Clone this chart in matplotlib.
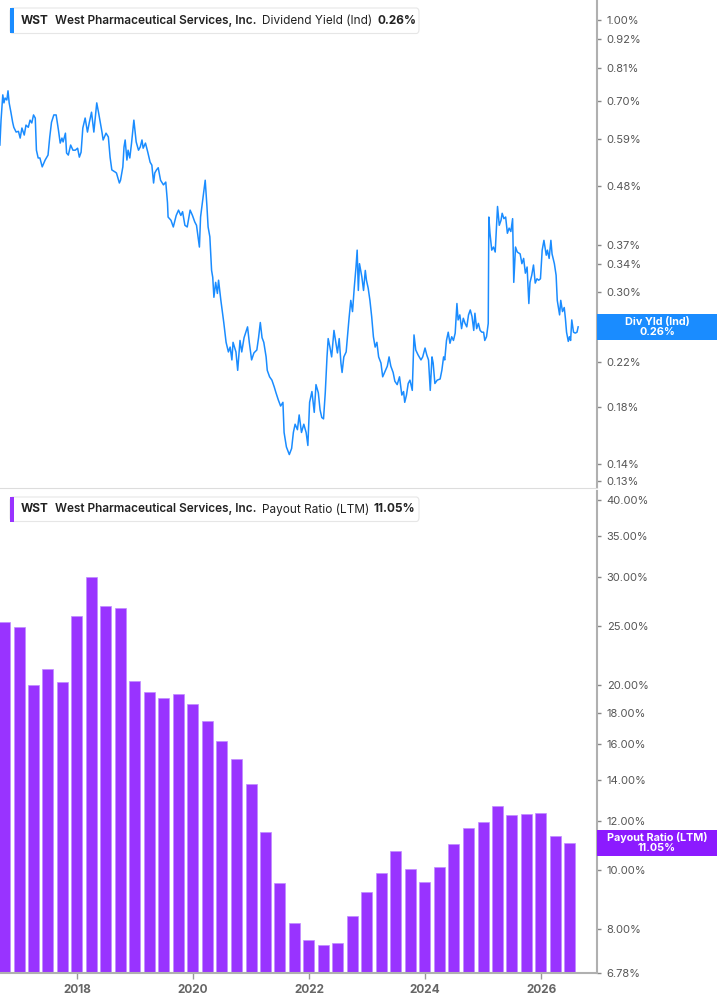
import pandas as pd
import matplotlib
matplotlib.use("Agg")
import matplotlib.pyplot as plt
from matplotlib.patches import FancyBboxPatch, Rectangle

plt.rcParams['font.family'] = ['Inter', 'DejaVu Sans']

# Dividend yield (Ind), % -- decimal year, value
yield_years = [
    2016.67, 2016.69, 2016.72, 2016.74, 2016.76, 2016.79, 2016.81, 2016.83, 2016.86, 2016.89,
    2016.91, 2016.95, 2016.99, 2017.02, 2017.05, 2017.09, 2017.12, 2017.16, 2017.19, 2017.22,
    2017.25, 2017.28, 2017.30, 2017.33, 2017.36, 2017.40, 2017.45, 2017.50, 2017.53, 2017.56,
    2017.60, 2017.64, 2017.68, 2017.71, 2017.74, 2017.76, 2017.80, 2017.82, 2017.85, 2017.89,
    2017.93, 2017.97, 2018.01, 2018.04, 2018.07, 2018.10, 2018.14, 2018.18, 2018.21, 2018.25,
    2018.29, 2018.34, 2018.37, 2018.43, 2018.45, 2018.50, 2018.54, 2018.57, 2018.60, 2018.66,
    2018.68, 2018.73, 2018.75, 2018.79, 2018.81, 2018.83, 2018.86, 2018.88, 2018.91, 2018.94,
    2018.98, 2019.02, 2019.06, 2019.09, 2019.12, 2019.14, 2019.18, 2019.22, 2019.26, 2019.29,
    2019.32, 2019.34, 2019.37, 2019.40, 2019.43, 2019.44, 2019.49, 2019.53, 2019.56, 2019.57,
    2019.62, 2019.66, 2019.71, 2019.75, 2019.79, 2019.82, 2019.86, 2019.90, 2019.95, 2019.99,
    2020.03, 2020.06, 2020.11, 2020.13, 2020.17, 2020.21, 2020.24, 2020.26, 2020.29, 2020.32,
    2020.34, 2020.36, 2020.39, 2020.42, 2020.44, 2020.48, 2020.51, 2020.53, 2020.57, 2020.61,
    2020.64, 2020.67, 2020.69, 2020.74, 2020.77, 2020.81, 2020.84, 2020.88, 2020.91, 2020.94,
    2020.97, 2021.01, 2021.05, 2021.10, 2021.13, 2021.16, 2021.19, 2021.22, 2021.26, 2021.28,
    2021.32, 2021.36, 2021.40, 2021.43, 2021.47, 2021.51, 2021.55, 2021.57, 2021.61, 2021.66,
    2021.70, 2021.73, 2021.76, 2021.80, 2021.83, 2021.87, 2021.91, 2021.95, 2021.98, 2022.01,
    2022.05, 2022.09, 2022.12, 2022.16, 2022.19, 2022.22, 2022.25, 2022.28, 2022.31, 2022.33,
    2022.36, 2022.39, 2022.43, 2022.47, 2022.49, 2022.52, 2022.55, 2022.57, 2022.60, 2022.64,
    2022.66, 2022.69, 2022.72, 2022.75, 2022.78, 2022.81, 2022.83, 2022.85, 2022.87, 2022.91,
    2022.94, 2022.97, 2022.99, 2023.02, 2023.05, 2023.08, 2023.11, 2023.14, 2023.17, 2023.20,
    2023.24, 2023.27, 2023.31, 2023.35, 2023.38, 2023.41, 2023.45, 2023.48, 2023.52, 2023.56,
    2023.60, 2023.63, 2023.65, 2023.68, 2023.71, 2023.74, 2023.78, 2023.81, 2023.84, 2023.88,
    2023.93, 2023.96, 2024.00, 2024.03, 2024.06, 2024.09, 2024.12, 2024.14, 2024.17, 2024.21,
    2024.26, 2024.29, 2024.32, 2024.34, 2024.37, 2024.40, 2024.43, 2024.46, 2024.49, 2024.52,
    2024.55, 2024.57, 2024.60, 2024.63, 2024.66, 2024.69, 2024.72, 2024.75, 2024.78, 2024.81,
    2024.84, 2024.86, 2024.89, 2024.92, 2024.95, 2024.98, 2025.01, 2025.03, 2025.06, 2025.09,
    2025.10, 2025.12, 2025.15, 2025.18, 2025.21, 2025.22, 2025.25, 2025.28, 2025.31, 2025.33,
    2025.36, 2025.39, 2025.42, 2025.45, 2025.48, 2025.51, 2025.53, 2025.56, 2025.59, 2025.64,
    2025.67, 2025.70, 2025.73, 2025.76, 2025.79, 2025.81, 2025.84, 2025.87, 2025.90, 2025.93,
    2025.96, 2025.99, 2026.02, 2026.05, 2026.09, 2026.11, 2026.14, 2026.17, 2026.19, 2026.23,
    2026.26, 2026.28, 2026.32, 2026.34, 2026.37, 2026.40, 2026.42, 2026.44, 2026.47, 2026.49,
    2026.51, 2026.53, 2026.56, 2026.59, 2026.62, 2026.64,
]
yield_values = [
    0.575, 0.642, 0.718, 0.693, 0.708, 0.702, 0.731, 0.693, 0.665, 0.636,
    0.622, 0.609, 0.611, 0.593, 0.620, 0.601, 0.628, 0.622, 0.642, 0.634,
    0.657, 0.648, 0.562, 0.543, 0.543, 0.522, 0.538, 0.550, 0.596, 0.636,
    0.657, 0.657, 0.614, 0.580, 0.593, 0.583, 0.606, 0.555, 0.550, 0.575,
    0.562, 0.562, 0.567, 0.545, 0.557, 0.620, 0.648, 0.609, 0.634, 0.665,
    0.609, 0.693, 0.665, 0.609, 0.588, 0.606, 0.596, 0.545, 0.515, 0.510,
    0.508, 0.486, 0.492, 0.522, 0.570, 0.588, 0.538, 0.562, 0.543, 0.580,
    0.642, 0.583, 0.562, 0.570, 0.588, 0.567, 0.580, 0.557, 0.533, 0.526,
    0.486, 0.508, 0.515, 0.520, 0.499, 0.492, 0.482, 0.488, 0.445, 0.418,
    0.412, 0.400, 0.421, 0.431, 0.421, 0.428, 0.403, 0.400, 0.431, 0.421,
    0.409, 0.403, 0.366, 0.418, 0.454, 0.492, 0.438, 0.400, 0.383, 0.330,
    0.320, 0.293, 0.313, 0.298, 0.316, 0.289, 0.273, 0.262, 0.240, 0.230,
    0.235, 0.222, 0.240, 0.230, 0.212, 0.242, 0.230, 0.245, 0.251, 0.257,
    0.240, 0.222, 0.229, 0.232, 0.245, 0.262, 0.245, 0.240, 0.225, 0.212,
    0.206, 0.203, 0.197, 0.192, 0.186, 0.181, 0.184, 0.161, 0.151, 0.146,
    0.150, 0.161, 0.167, 0.163, 0.174, 0.161, 0.167, 0.161, 0.152, 0.184,
    0.193, 0.176, 0.199, 0.192, 0.178, 0.172, 0.171, 0.192, 0.225, 0.244,
    0.235, 0.225, 0.253, 0.237, 0.229, 0.244, 0.219, 0.210, 0.225, 0.230,
    0.244, 0.267, 0.289, 0.275, 0.306, 0.335, 0.361, 0.302, 0.340, 0.321,
    0.302, 0.330, 0.316, 0.305, 0.289, 0.269, 0.246, 0.235, 0.240, 0.225,
    0.219, 0.206, 0.211, 0.216, 0.225, 0.216, 0.210, 0.202, 0.199, 0.206,
    0.190, 0.193, 0.184, 0.190, 0.200, 0.203, 0.194, 0.248, 0.232, 0.227,
    0.222, 0.225, 0.234, 0.227, 0.222, 0.194, 0.225, 0.219, 0.200, 0.203,
    0.204, 0.212, 0.225, 0.222, 0.242, 0.251, 0.239, 0.246, 0.242, 0.250,
    0.285, 0.265, 0.271, 0.255, 0.267, 0.261, 0.257, 0.271, 0.277, 0.269,
    0.253, 0.273, 0.255, 0.261, 0.253, 0.251, 0.251, 0.242, 0.246, 0.261,
    0.418, 0.389, 0.361, 0.366, 0.358, 0.377, 0.438, 0.403, 0.412, 0.425,
    0.415, 0.418, 0.389, 0.398, 0.392, 0.415, 0.313, 0.366, 0.358, 0.355,
    0.340, 0.348, 0.326, 0.335, 0.285, 0.313, 0.323, 0.338, 0.312, 0.318,
    0.316, 0.318, 0.361, 0.377, 0.353, 0.361, 0.348, 0.377, 0.355, 0.340,
    0.323, 0.289, 0.271, 0.289, 0.275, 0.280, 0.267, 0.251, 0.241, 0.246,
    0.242, 0.265, 0.251, 0.250, 0.251, 0.257,
]

# Payout ratio (LTM), %, quarterly
payout_quarters = pd.period_range("2016Q3", "2026Q2", freq="Q")
payout_values = [
    25.3, 24.9, 20.0, 21.2, 20.2, 25.9, 30.0, 26.9, 26.7, 20.3,
    19.5, 19.05, 19.3, 18.6, 17.5, 16.2, 15.15, 13.8, 11.5, 9.5,
    8.18, 7.67, 7.53, 7.60, 8.40, 9.18, 9.87, 10.71, 10.01, 9.55,
    10.08, 11.01, 11.67, 11.94, 12.71, 12.27, 12.31, 12.35, 11.33, 11.05,
]

yield_ticks = [1.00, 0.92, 0.81, 0.70, 0.59, 0.48, 0.37, 0.34, 0.30, 0.26, 0.22, 0.18, 0.14, 0.13]
payout_ticks = [40, 35, 30, 25, 20, 18, 16, 14, 12, 10, 8, 6.78]
year_ticks = [2018, 2020, 2022, 2024, 2026]

BLUE = "#1a8cff"
PURPLE = "#9933ff"
LABEL_PURPLE = "#8c1aff"

# quarter-end as decimal year
end = payout_quarters.end_time
bar_x = end.year + (end.dayofyear) / 365.25

W, H = 717, 1005
fig = plt.figure(figsize=(W / 100, H / 100), dpi=100)
ax1 = fig.add_axes([0, 1 - 488 / H, 597 / W, 488 / H])
ax2 = fig.add_axes([0, 1 - 973 / H, 597 / W, 482 / H])

xmin, xmax = 2016.672, 2026.965

ax1.plot(yield_years, yield_values, color=BLUE, lw=1.1)
ax1.set_yscale("log")
ax1.set_ylim(0.1259, 1.093)

ax2.bar(bar_x, payout_values, width=0.19, color=PURPLE, edgecolor="#c08cff", linewidth=0.5)
ax2.set_yscale("log")
ax2.set_ylim(6.78, 41.45)

# the last value sits under its tag, so its tick label stays blank
hidden = {ax1: yield_values[-1], ax2: None}
for ax, ticks in [(ax1, yield_ticks), (ax2, payout_ticks)]:
    ax.set_xlim(xmin, xmax)
    ax.yaxis.tick_right()
    ax.yaxis.set_minor_locator(plt.NullLocator())
    ax.set_yticks(ticks)
    labels = []
    for t in ticks:
        if hidden[ax] is not None and abs(t - hidden[ax]) < 0.005:
            labels.append("")
        else:
            labels.append("{:.2f}%".format(t))
    ax.set_yticklabels(labels)
    ax.tick_params(axis="y", which="major", labelsize=8, labelcolor="#555555",
                   color="#888888", length=3, width=1, pad=4)
    ax.spines["left"].set_visible(False)
    ax.spines["top"].set_visible(False)
    ax.spines["right"].set_color("#b0b0b0")
    ax.spines["right"].set_linewidth(1.5)

ax1.spines["bottom"].set_color("#dddddd")
ax1.set_xticks([])
ax2.spines["bottom"].set_color("#b0b0b0")
ax2.spines["bottom"].set_linewidth(1.5)
ax2.set_xticks(year_ticks)
ax2.set_xticklabels([str(y) for y in year_ticks], fontweight="bold")
ax2.tick_params(axis="x", labelsize=8.5, labelcolor="#666666", color="#999999",
                length=4, width=1, pad=4)


def fx(px):
    return px / W


def fy(py):
    return 1 - py / H


def legend(top, bottom, color, metric, value):
    box = FancyBboxPatch((fx(10), fy(bottom)), fx(409), fy(top) - fy(bottom),
                         boxstyle="round,pad=0,rounding_size=0.004",
                         transform=fig.transFigure, facecolor="white",
                         edgecolor="#e6e6e6", lw=0.8, zorder=5)
    fig.patches.append(box)
    bar = Rectangle((fx(10), fy(bottom)), fx(3.5), fy(top) - fy(bottom),
                    transform=fig.transFigure, facecolor=color, edgecolor="none", zorder=6)
    fig.patches.append(bar)
    yc = fy((top + bottom) / 2)
    kw = dict(va="center", ha="left", fontsize=8.5, color="#222222", zorder=7)
    fig.text(fx(20.5), yc, "WST", fontweight="bold", **kw)
    fig.text(fx(55), yc, "West Pharmaceutical Services, Inc.", fontweight="semibold", **kw)
    fig.text(fx(262.5), yc, metric, **kw)
    fig.text(fx(value[1]), yc, value[0], fontweight="bold", **kw)


legend(8, 33.5, BLUE, "Dividend Yield (Ind)", ("0.26%", 377))
legend(497, 521.5, PURPLE, "Payout Ratio (LTM)", ("11.05%", 373.5))


def value_tag(ax, val, color, name, text):
    fig.canvas.draw()
    disp = ax.transData.transform((xmin, val))
    yc = fig.transFigure.inverted().transform(disp)[1]
    h = 25.5 / H
    tag = Rectangle((597 / W, yc - h / 2), 1 - 597 / W, h, transform=fig.transFigure,
                    facecolor=color, edgecolor="none", zorder=8, clip_on=False)
    fig.patches.append(tag)
    fig.text(657 / W, yc, name + "\n" + text, ha="center", va="center", color="white",
             fontsize=7.8, fontweight="bold", linespacing=1.0, zorder=9)


value_tag(ax1, yield_values[-1], BLUE, "Div Yld (Ind)", "0.26%")
value_tag(ax2, payout_values[-1], LABEL_PURPLE, "Payout Ratio (LTM)", "11.05%")

fig.savefig("out.png", dpi=100)
